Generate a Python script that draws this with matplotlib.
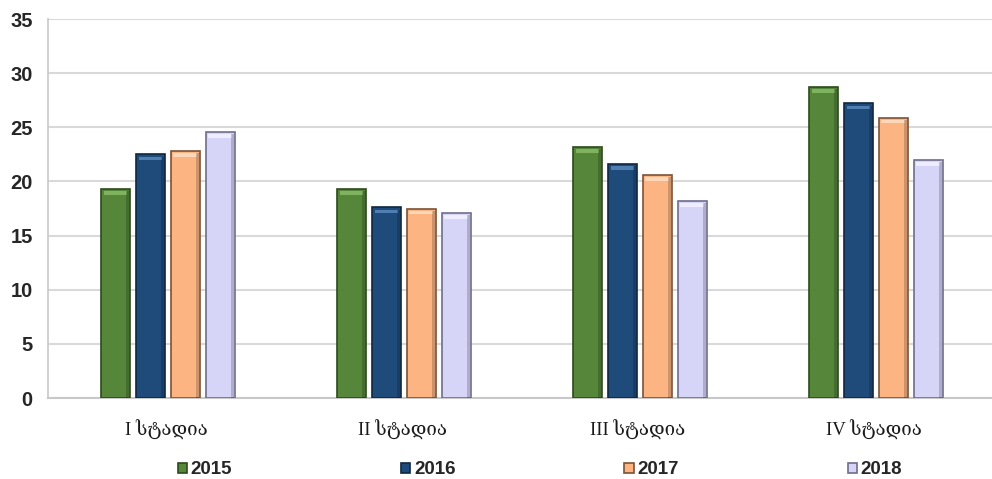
import numpy as np
import matplotlib.pyplot as plt
from matplotlib.patches import Rectangle

# Data
stages = ["I სტადია", "II სტადია", "III სტადია", "IV სტადია"]
years = ["2015", "2016", "2017", "2018"]
v2015 = [19.3, 19.3, 23.2, 28.7]
v2016 = [22.5, 17.6, 21.6, 27.2]
v2017 = [22.8, 17.5, 20.6, 25.9]
v2018 = [24.6, 17.1, 18.2, 22.0]
series = [v2015, v2016, v2017, v2018]

face_colors = ["#55863a", "#1f4b7b", "#fbb482", "#d6d5f7"]
edge_colors = ["#2c4a1c", "#0f2740", "#7a5236", "#6e6d8c"]
top_colors = ["#8cbf6a", "#5d8cc0", "#fde0c8", "#f4f4ff"]

fig = plt.figure(figsize=(9.92, 4.79), dpi=100)
ax = fig.add_axes([48 / 992, 1 - 398 / 479, 944 / 992, 379 / 479])

x = np.arange(len(stages))
step = 0.148
width = 0.125

for i, (vals, fc, ec, tc) in enumerate(zip(series, face_colors, edge_colors, top_colors)):
    xs = x + (i - 1.5) * step + 0.008
    ax.bar(xs, vals, width=width, color=fc, edgecolor=ec, linewidth=1.2,
           zorder=3, label=years[i])
    # soft bevel highlight along the top of each bar
    for xv, v in zip(xs, vals):
        ax.add_patch(Rectangle((xv - width / 2 + 0.012, v - 0.55), width - 0.024, 0.35,
                               facecolor=tc, edgecolor="none", alpha=0.8, zorder=4))
    # right-edge shading for a slight 3D look
    for xv, v in zip(xs, vals):
        ax.add_patch(Rectangle((xv + width / 2 - 0.018, 0), 0.014, v - 0.2,
                               facecolor="black", edgecolor="none", alpha=0.18, zorder=4))

ax.set_xlim(-0.5, 3.5)
ax.set_ylim(0, 35)
ax.set_yticks(np.arange(0, 36, 5))
ax.yaxis.grid(True, color="#d9d9d9", linewidth=1.5, zorder=0)
ax.set_axisbelow(True)

for s in ["top", "right"]:
    ax.spines[s].set_visible(False)
ax.spines["left"].set_color("#c8c8c8")
ax.spines["left"].set_linewidth(1.2)
ax.spines["bottom"].set_color("#c8c8c8")
ax.spines["bottom"].set_linewidth(1.5)

ax.tick_params(axis="both", length=0)
ax.tick_params(axis="y", pad=11)
for lbl in ax.get_yticklabels():
    lbl.set_fontfamily("Liberation Sans")
    lbl.set_fontweight("bold")
    lbl.set_fontsize(14.5)
    lbl.set_color("#262626")

ax.set_xticks(x)
ax.set_xticklabels(stages, family=["Liberation Serif", "DejaVu Serif", "DejaVu Sans"],
                   fontsize=13.5, color="#1a1a1a")
ax.tick_params(axis="x", pad=16)

leg = fig.legend(loc="center", ncol=4, frameon=False,
                 handlelength=0.5, handleheight=0.5,
                 handletextpad=0.2, columnspacing=9.0,
                 prop={"family": "Liberation Sans", "weight": "bold", "size": 13.5})
leg.set_bbox_to_anchor((540 / 992, 1 - 470 / 479), transform=fig.transFigure)
for t in leg.get_texts():
    t.set_color("#262626")

fig.savefig("out.png", dpi=100)
